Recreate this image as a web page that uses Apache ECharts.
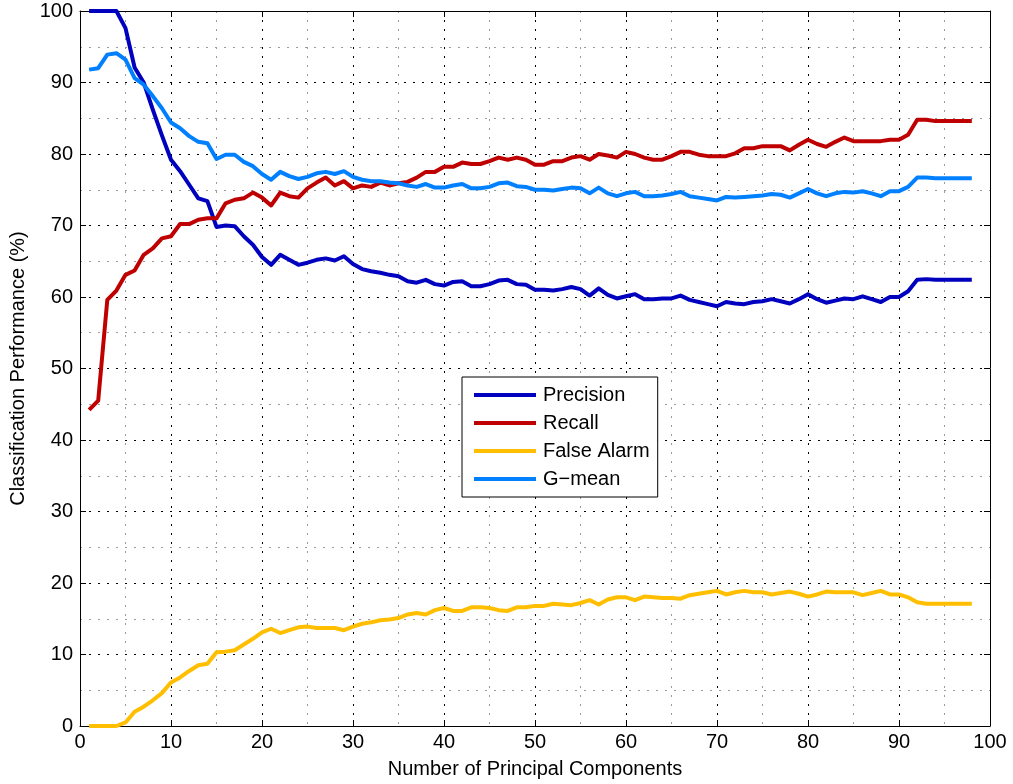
<!DOCTYPE html>
<html>
<head>
<meta charset="utf-8">
<script src="https://cdn.jsdelivr.net/npm/echarts@6/dist/echarts.min.js"></script>
<style>
html,body{margin:0;padding:0;background:#fff;}
#chart{width:1013px;height:784px;}
</style>
</head>
<body>
<div id="chart"></div>
<script>
var components = [1,2,3,4,5,6,7,8,9,10,11,12,13,14,15,16,17,18,19,20,21,22,23,24,25,26,27,28,29,30,31,32,33,34,35,36,37,38,39,40,41,42,43,44,45,46,47,48,49,50,51,52,53,54,55,56,57,58,59,60,61,62,63,64,65,66,67,68,69,70,71,72,73,74,75,76,77,78,79,80,81,82,83,84,85,86,87,88,89,90,91,92,93,94,95,96,97,98];

var precision = [100,100,100,100,97.6,92.1,90.0,86.2,82.6,79.2,77.6,75.7,73.8,73.4,69.8,70.0,69.9,68.5,67.3,65.6,64.5,65.9,65.2,64.5,64.8,65.2,65.4,65.1,65.7,64.6,63.9,63.6,63.4,63.1,62.9,62.2,62.0,62.4,61.8,61.6,62.1,62.2,61.5,61.5,61.8,62.3,62.4,61.8,61.7,61.0,61.0,60.9,61.1,61.4,61.1,60.2,61.2,60.3,59.8,60.1,60.4,59.7,59.7,59.8,59.8,60.2,59.6,59.3,59.0,58.7,59.3,59.1,59.0,59.3,59.4,59.7,59.4,59.1,59.7,60.4,59.7,59.2,59.5,59.8,59.7,60.1,59.7,59.3,60.0,60.0,60.8,62.4,62.5,62.4,62.4,62.4,62.4,62.4];

var recall = [44.2,45.5,59.6,60.9,63.1,63.7,65.9,66.8,68.2,68.5,70.2,70.2,70.8,71.0,71.0,73.1,73.6,73.8,74.6,73.9,72.8,74.6,74.1,73.9,75.2,76.0,76.7,75.6,76.2,75.2,75.6,75.4,76.0,75.6,75.9,76.1,76.7,77.5,77.5,78.2,78.2,78.8,78.6,78.6,79.0,79.5,79.2,79.5,79.2,78.5,78.5,79.0,79.0,79.5,79.7,79.2,80.0,79.8,79.5,80.3,80.0,79.5,79.2,79.2,79.7,80.3,80.3,79.9,79.7,79.7,79.7,80.1,80.8,80.8,81.1,81.1,81.1,80.5,81.3,82.0,81.4,81.0,81.7,82.3,81.8,81.8,81.8,81.8,82.0,82.0,82.7,84.8,84.8,84.6,84.6,84.6,84.6,84.6];

var falseAlarm = [0,0,0,0,0.5,2.0,2.7,3.6,4.6,6.1,6.8,7.7,8.5,8.7,10.3,10.4,10.6,11.4,12.2,13.1,13.6,13.0,13.4,13.8,13.9,13.7,13.7,13.7,13.4,13.9,14.3,14.5,14.8,14.9,15.1,15.6,15.8,15.6,16.2,16.5,16.1,16.1,16.6,16.6,16.5,16.2,16.1,16.6,16.6,16.8,16.8,17.1,17.0,16.9,17.2,17.6,17.0,17.7,18.0,18.0,17.6,18.1,18.0,17.9,17.9,17.8,18.3,18.5,18.7,18.9,18.4,18.7,18.9,18.7,18.7,18.4,18.6,18.8,18.5,18.1,18.4,18.8,18.7,18.7,18.7,18.3,18.6,18.9,18.4,18.4,18.0,17.3,17.1,17.1,17.1,17.1,17.1,17.1];

var gmean = [91.8,92.0,93.9,94.1,93.2,90.6,89.7,88.1,86.4,84.4,83.6,82.5,81.7,81.5,79.3,79.9,79.9,78.9,78.3,77.2,76.4,77.5,76.9,76.5,76.8,77.3,77.5,77.2,77.6,76.8,76.4,76.2,76.2,76.0,75.9,75.6,75.4,75.8,75.3,75.3,75.6,75.8,75.2,75.2,75.4,75.9,76.0,75.5,75.4,75.0,75.0,74.9,75.1,75.3,75.2,74.5,75.3,74.5,74.1,74.5,74.7,74.1,74.1,74.2,74.4,74.7,74.1,73.9,73.7,73.5,74.0,73.9,74.0,74.1,74.2,74.4,74.3,73.9,74.5,75.1,74.5,74.1,74.5,74.7,74.6,74.8,74.5,74.1,74.8,74.8,75.4,76.7,76.7,76.6,76.6,76.6,76.6,76.6];

var seriesNames = ['Precision', 'Recall', 'False Alarm', 'G\u2212mean'];
var seriesValues = [precision, recall, falseAlarm, gmean];
var seriesColors = ['#0000BF', '#BF0000', '#FFBF00', '#0080FF'];

var xTicks = [0,10,20,30,40,50,60,70,80,90,100];
var yTicks = [0,10,20,30,40,50,60,70,80,90,100];

var FONT = 'Liberation Sans, Arial, Helvetica, sans-serif';

function pairs(vals) {
  return components.map(function (c, i) { return [c, vals[i]]; });
}

var majorSplit = { show: true, lineStyle: { color: '#000', width: 1, type: [2, 7] } };
var minorSplit = { show: true, lineStyle: { color: '#9a9a9a', width: 1, type: [2, 7] } };

function mainAxis(pos, ticks, name, gap) {
  return {
    type: 'value', position: pos,
    min: ticks[0], max: ticks[ticks.length - 1], interval: ticks[1] - ticks[0],
    name: name, nameLocation: 'middle', nameGap: gap,
    nameTextStyle: { color: '#000', fontSize: 20, fontFamily: FONT },
    axisLine: { show: true, onZero: false, lineStyle: { color: '#000', width: 1 } },
    axisTick: { show: true, inside: true, length: 6, lineStyle: { color: '#000', width: 1 } },
    axisLabel: { show: true, color: '#000', fontSize: 20, fontFamily: FONT, margin: pos === 'bottom' ? 6 : 7 },
    splitLine: majorSplit,
    minorTick: { show: false, splitNumber: 2 },
    minorSplitLine: minorSplit
  };
}
function mirrorAxis(pos, ticks) {
  return {
    type: 'value', position: pos,
    min: ticks[0], max: ticks[ticks.length - 1], interval: ticks[1] - ticks[0],
    axisLine: { show: true, onZero: false, lineStyle: { color: '#000', width: 1 } },
    axisTick: { show: true, inside: true, length: 6, lineStyle: { color: '#000', width: 1 } },
    axisLabel: { show: false },
    splitLine: { show: false }
  };
}

var chart = echarts.init(document.getElementById('chart'), null, { renderer: 'canvas', width: 1013, height: 784 });
chart.setOption({
  animation: false,
  backgroundColor: '#fff',
  grid: { left: 80, width: 910, top: 11, height: 718, containLabel: false },
  xAxis: [
    mainAxis('bottom', xTicks, 'Number of Principal Components', 33),
    mirrorAxis('top', xTicks)
  ],
  yAxis: [
    mainAxis('left', yTicks, 'Classification Performance (%)', 48),
    mirrorAxis('right', yTicks)
  ],
  legend: {
    orient: 'vertical', left: 462, top: 377,
    itemWidth: 62, itemHeight: 4, itemGap: 8,
    padding: [8, 8, 8, 12],
    borderColor: '#000', borderWidth: 1, backgroundColor: '#fff',
    icon: 'rect',
    textStyle: { color: '#000', fontSize: 20, fontFamily: FONT, padding: [0, 0, 0, 2] },
    data: seriesNames
  },
  series: seriesNames.map(function (n, i) {
    return {
      name: n, type: 'line', xAxisIndex: 0, yAxisIndex: 0,
      data: pairs(seriesValues[i]),
      showSymbol: false, symbol: 'none', clip: false,
      color: seriesColors[i],
      lineStyle: { color: seriesColors[i], width: 4, join: 'round' }
    };
  })
});
</script>
</body>
</html>
